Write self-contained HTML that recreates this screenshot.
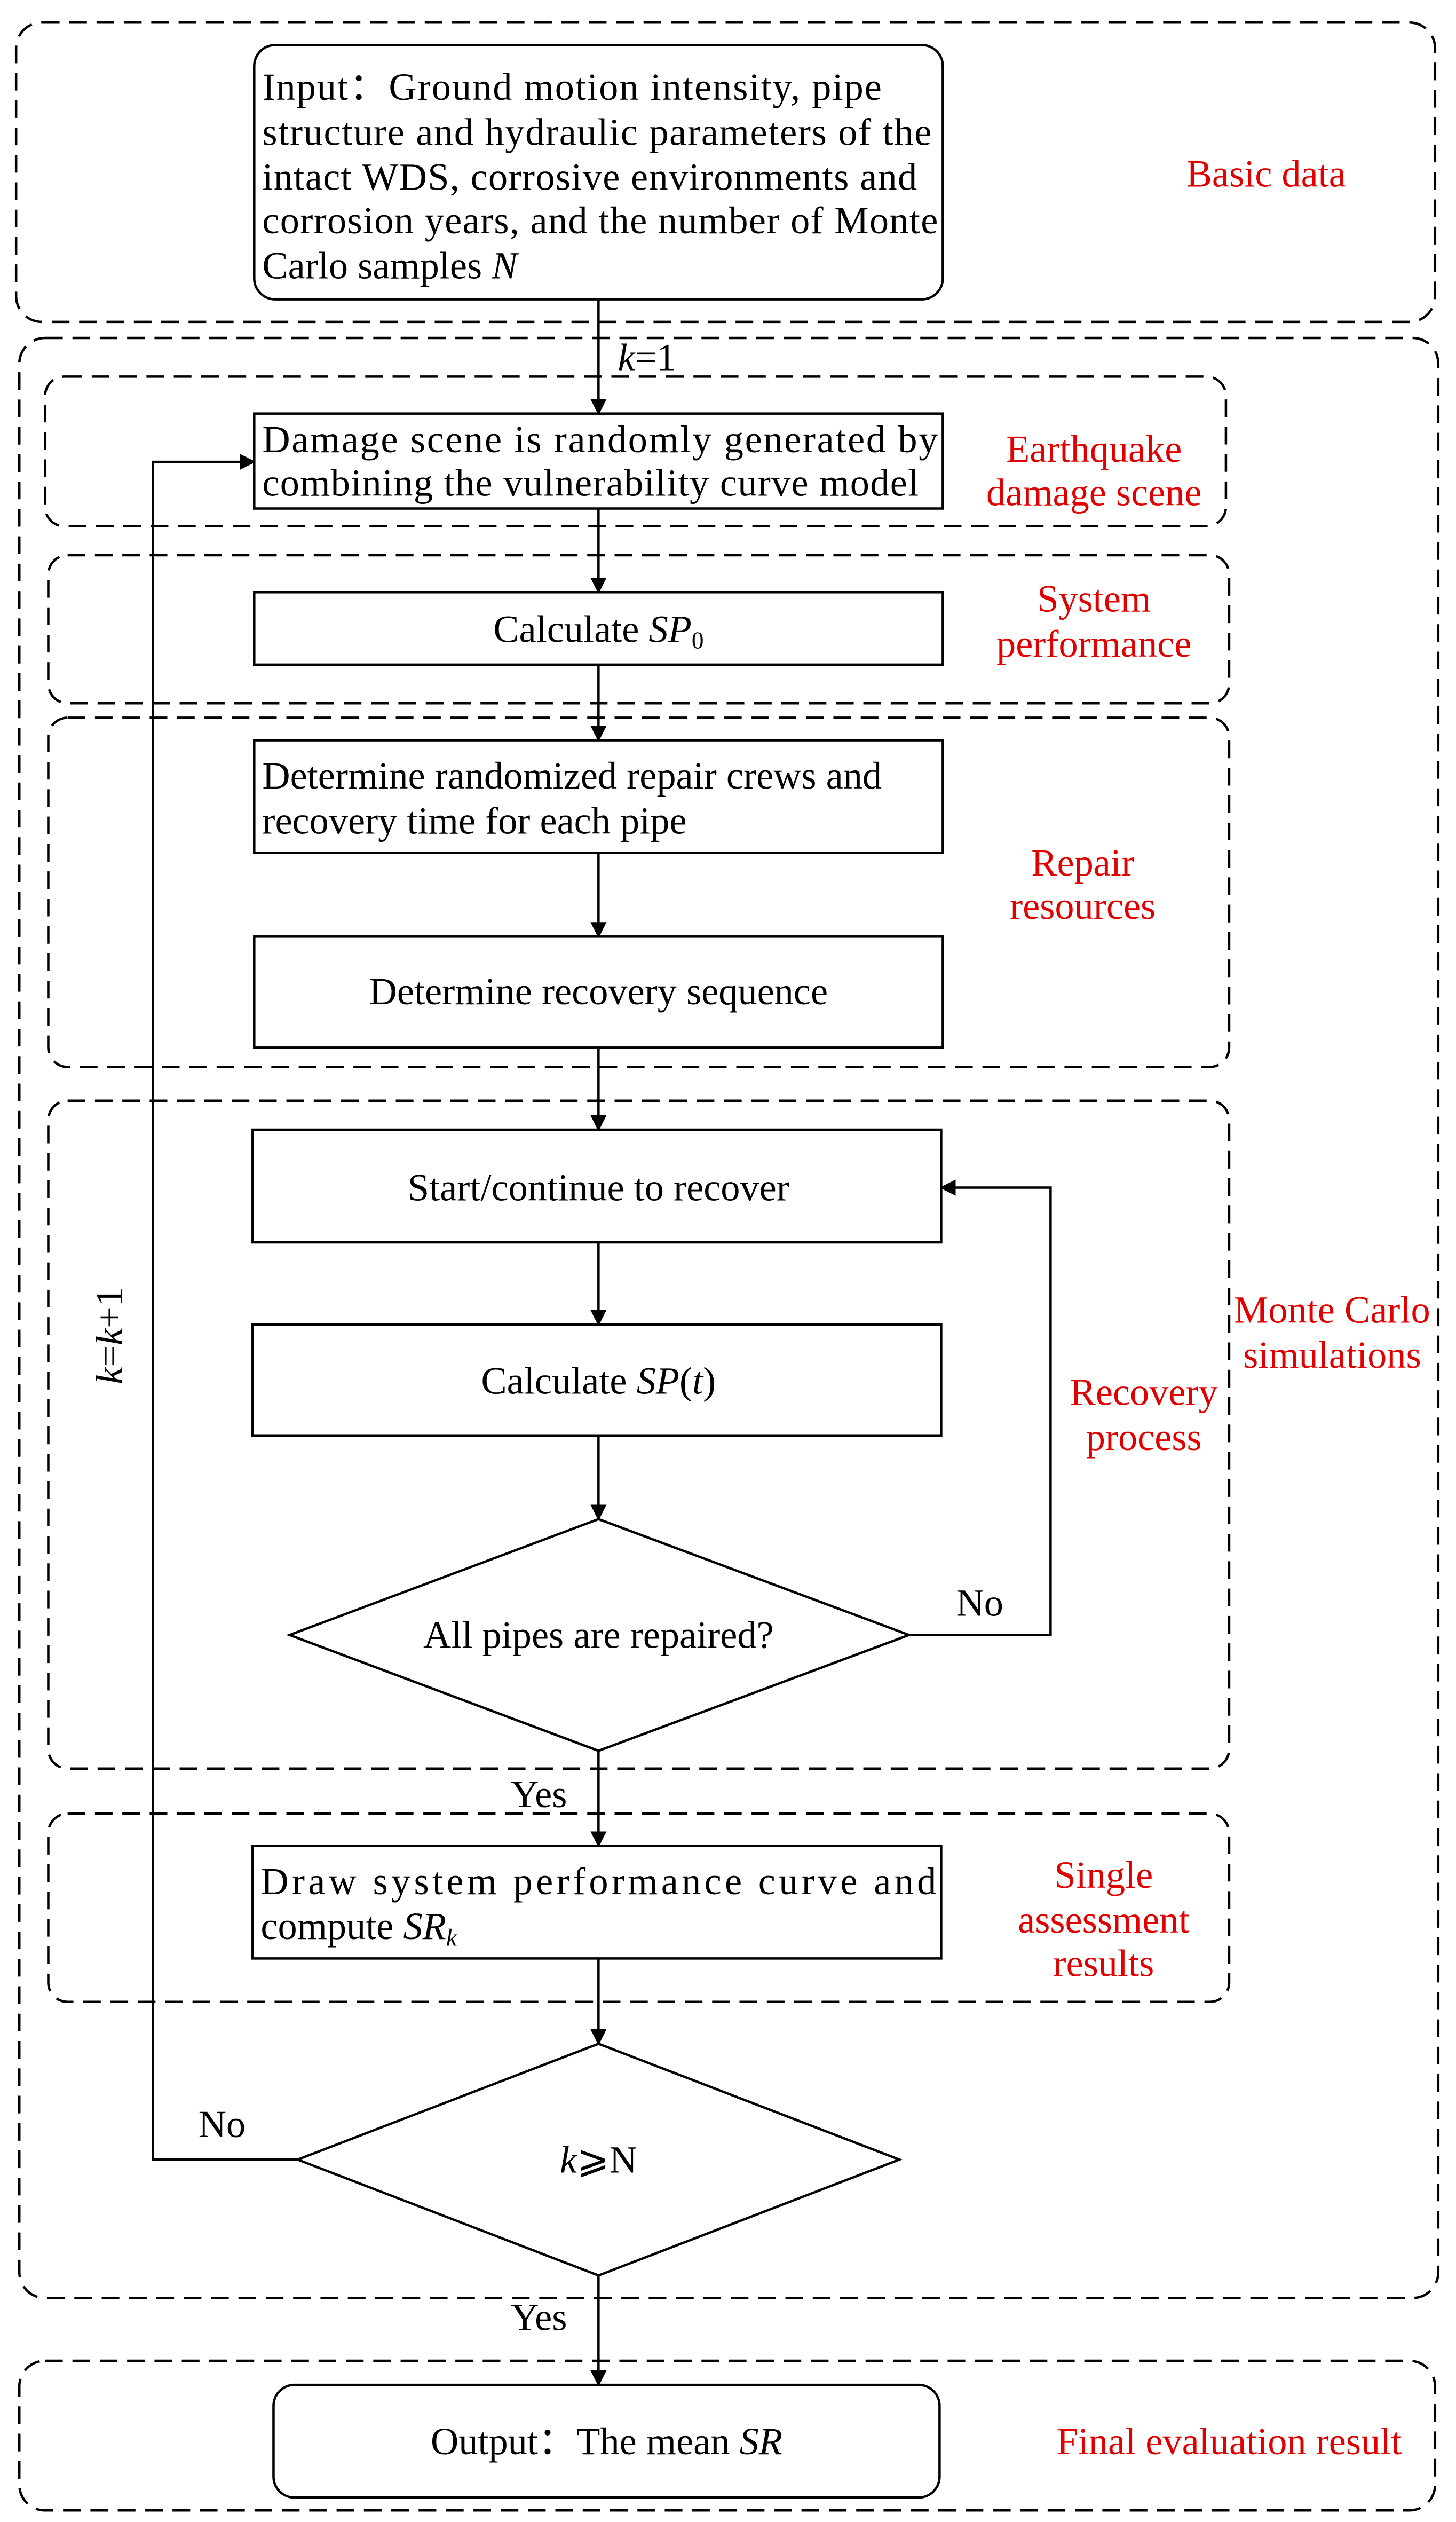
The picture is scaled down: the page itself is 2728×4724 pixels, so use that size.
<!DOCTYPE html>
<html><head><meta charset="utf-8"><style>
html,body{margin:0;padding:0;background:#fff}
svg{display:block}
text{font-family:"Liberation Serif",serif;font-size:24px;fill:#000}
.r{fill:#e00000}
.d{fill:none;stroke:#000;stroke-width:1.5;stroke-dasharray:11 6}
.b{fill:#fff;stroke:#000;stroke-width:1.5}
.l{fill:none;stroke:#000;stroke-width:1.5}
</style></head><body>
<svg width="2728" height="4724" viewBox="0 0 905 1567.2" xmlns="http://www.w3.org/2000/svg">
<defs><marker id="a" markerWidth="10" markerHeight="10" refX="9" refY="5" orient="auto" markerUnits="userSpaceOnUse"><path d="M0,0 L10,5 L0,10 z" fill="#000"/></marker></defs>
<rect class="d" x="10" y="14" width="882" height="186" rx="16"/>
<rect class="d" x="12" y="210" width="882" height="1218" rx="16"/>
<rect class="d" x="28" y="234" width="734" height="93" rx="12"/>
<rect class="d" x="30" y="345" width="734" height="92" rx="12"/>
<rect class="d" x="30" y="446" width="734" height="217" rx="12"/>
<rect class="d" x="30" y="684" width="734" height="415" rx="12"/>
<rect class="d" x="30" y="1127" width="734" height="117" rx="12"/>
<rect class="d" x="12" y="1467" width="880" height="93" rx="16"/>
<line class="l" x1="372" y1="186" x2="372" y2="257" marker-end="url(#a)"/>
<line class="l" x1="372" y1="316" x2="372" y2="368" marker-end="url(#a)"/>
<line class="l" x1="372" y1="413" x2="372" y2="460" marker-end="url(#a)"/>
<line class="l" x1="372" y1="530" x2="372" y2="582" marker-end="url(#a)"/>
<line class="l" x1="372" y1="651" x2="372" y2="702" marker-end="url(#a)"/>
<line class="l" x1="372" y1="772" x2="372" y2="823" marker-end="url(#a)"/>
<line class="l" x1="372" y1="892" x2="372" y2="944" marker-end="url(#a)"/>
<line class="l" x1="372" y1="1088" x2="372" y2="1147" marker-end="url(#a)"/>
<line class="l" x1="372" y1="1217" x2="372" y2="1270" marker-end="url(#a)"/>
<line class="l" x1="372" y1="1414" x2="372" y2="1482" marker-end="url(#a)"/>
<polyline class="l" points="565,1016 653,1016 653,738 585,738" marker-end="url(#a)"/>
<polyline class="l" points="185,1342 95,1342 95,287 158,287" marker-end="url(#a)"/>
<rect class="b" x="158" y="28" width="428" height="158" rx="13"/>
<rect class="b" x="158" y="257" width="428" height="59"/>
<rect class="b" x="158" y="368" width="428" height="45"/>
<rect class="b" x="158" y="460" width="428" height="70"/>
<rect class="b" x="158" y="582" width="428" height="69"/>
<rect class="b" x="157" y="702" width="428" height="70"/>
<rect class="b" x="157" y="823" width="428" height="69"/>
<polygon class="b" points="372,944 565,1016 372,1088 180,1016"/>
<rect class="b" x="157" y="1147" width="428" height="70"/>
<polygon class="b" points="372,1270 559,1342 372,1414 185,1342"/>
<rect class="b" x="170" y="1482" width="414" height="70" rx="13"/>
<text x="163" y="62" textLength="385" lengthAdjust="spacing">Input：Ground motion intensity, pipe</text>
<text x="163" y="90" textLength="416" lengthAdjust="spacing">structure and hydraulic  parameters of the</text>
<text x="163" y="118" textLength="407" lengthAdjust="spacing">intact WDS, corrosive environments and</text>
<text x="163" y="145" textLength="420" lengthAdjust="spacing">corrosion years, and the number of Monte</text>
<text x="163" y="173">Carlo samples <tspan font-style="italic">N</tspan></text>
<text class="r" x="787" y="116" text-anchor="middle">Basic data</text>
<text x="384" y="230"><tspan font-style="italic">k</tspan>=1</text>
<text x="163" y="281" textLength="420" lengthAdjust="spacing">Damage scene is randomly generated by</text>
<text x="163" y="308" textLength="408" lengthAdjust="spacing">combining the vulnerability curve model</text>
<text class="r" x="680" y="287" text-anchor="middle">Earthquake</text>
<text class="r" x="680" y="314" text-anchor="middle">damage scene</text>
<text x="372" y="399" text-anchor="middle">Calculate <tspan font-style="italic">SP</tspan><tspan font-size="15" dy="4">0</tspan></text>
<text class="r" x="680" y="380" text-anchor="middle">System</text>
<text class="r" x="680" y="408" text-anchor="middle">performance</text>
<text x="163" y="490">Determine randomized repair crews and</text>
<text x="163" y="518">recovery time for each pipe</text>
<text x="372" y="624" text-anchor="middle">Determine recovery sequence</text>
<text class="r" x="673" y="544" text-anchor="middle">Repair</text>
<text class="r" x="673" y="571" text-anchor="middle">resources</text>
<text x="372" y="746" text-anchor="middle">Start/continue to recover</text>
<text x="372" y="866" text-anchor="middle">Calculate <tspan font-style="italic">SP</tspan>(<tspan font-style="italic">t</tspan>)</text>
<text x="372" y="1024" text-anchor="middle">All pipes are repaired?</text>
<text x="609" y="1004" text-anchor="middle">No</text>
<text class="r" x="711" y="873" text-anchor="middle">Recovery</text>
<text class="r" x="711" y="901" text-anchor="middle">process</text>
<text class="r" x="828" y="822" text-anchor="middle">Monte Carlo</text>
<text class="r" x="828" y="850" text-anchor="middle">simulations</text>
<text transform="translate(76,830) rotate(-90)" text-anchor="middle"><tspan font-style="italic">k</tspan>=<tspan font-style="italic">k</tspan>+1</text>
<text x="335" y="1123" text-anchor="middle">Yes</text>
<text x="162" y="1177" textLength="420" lengthAdjust="spacing">Draw system performance curve and</text>
<text x="162" y="1205">compute <tspan font-style="italic">SR</tspan><tspan font-size="15" dy="4" font-style="italic">k</tspan></text>
<text class="r" x="686" y="1173" text-anchor="middle">Single</text>
<text class="r" x="686" y="1201" text-anchor="middle">assessment</text>
<text class="r" x="686" y="1228" text-anchor="middle">results</text>
<text x="372" y="1350" text-anchor="middle"><tspan font-style="italic">k</tspan>⩾N</text>
<text x="138" y="1328" text-anchor="middle">No</text>
<text x="335" y="1448" text-anchor="middle">Yes</text>
<text x="377" y="1525" text-anchor="middle">Output：The mean <tspan font-style="italic">SR</tspan></text>
<text class="r" x="764" y="1525" text-anchor="middle">Final evaluation result</text>
</svg>
</body></html>
